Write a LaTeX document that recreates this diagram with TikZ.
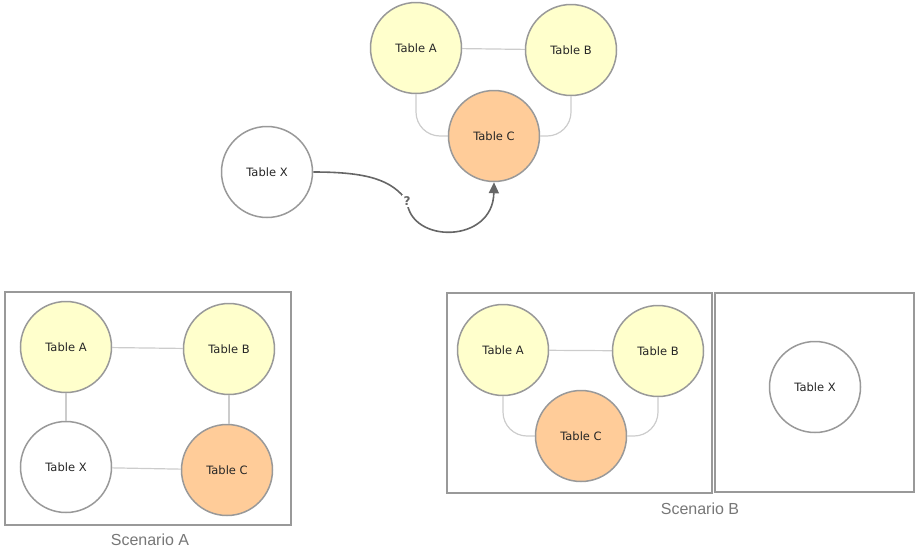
\documentclass[tikz,border=0pt]{standalone}
\usepackage{fontspec}
\setmainfont{DejaVu Sans}
\newfontfamily\labelfont{Liberation Sans}
\usetikzlibrary{arrows.meta,backgrounds}
\definecolor{nodegray}{HTML}{999999}
\definecolor{yelfill}{HTML}{FFFFCC}
\definecolor{orgfill}{HTML}{FFCC99}
\definecolor{linkgray}{HTML}{CCCCCC}
\definecolor{boxgray}{HTML}{999999}
\definecolor{capgray}{HTML}{777777}
\definecolor{arrowgray}{HTML}{666666}
\begin{document}
\begin{tikzpicture}[x=1pt,y=-1pt,
  tbl/.style={circle,draw=nodegray,line width=1.5pt,minimum size=91pt,inner sep=0pt,
    font=\fontsize{11.5}{13}\selectfont,text=black!85},
  yel/.style={tbl,fill=yelfill},
  org/.style={tbl,fill=orgfill},
  wht/.style={tbl,fill=white},
  link/.style={draw=linkgray,line width=1.2pt},
  curvelink/.style={link,rounded corners=24pt},
  box/.style={draw=boxgray,line width=1.5pt},
  scencaption/.style={font=\labelfont\fontsize{16}{18}\selectfont,text=capgray,anchor=base,inner sep=0pt}]
\useasboundingbox (0,0) rectangle (915,552);

% ---------- top ----------
\node[yel] (tA) at (416,48) {Table A};
\node[yel] (tB) at (571,50) {Table B};
\node[org] (tC) at (494,136) {Table C};
\node[wht] (tX) at (267,172) {Table X};
\begin{scope}[on background layer]
\draw[link] (tA) -- (tB);
\path[curvelink] (tA.south) |- (tC.west);
\path[curvelink] (tB.south) |- (tC.east);
\end{scope}
\coordinate (q) at (407,201);
\draw[draw=arrowgray,line width=1.6pt,-{Triangle[length=11pt,width=10pt]}]
  (tX.east) .. controls (368,172) and (392,180) .. (q)
  .. controls (410,244) and (493,244) .. (tC.south);
\node[fill=white,inner sep=2pt,text=arrowgray,font=\bfseries\fontsize{12}{13}\selectfont] (qm) at (q) {?};

% ---------- Scenario A ----------
\node[box,minimum width=286pt,minimum height=233pt,inner sep=0pt] (boxA) at (148,408.5) {};
\node[yel] (aA) at (66,347) {Table A};
\node[yel] (aB) at (229,349) {Table B};
\node[wht] (aX) at (66,467) {Table X};
\node[org] (aC) at (227,470) {Table C};
\draw[link] (aA) -- (aB);
\draw[link] (aA) -- (aX);
\draw[link] (aB.south) -- (aB.south |- aC.north);
\draw[link] (aX) -- (aC);
\node[scencaption] (capA) at (150,545) {Scenario A};

% ---------- Scenario B ----------
\node[box,minimum width=265pt,minimum height=200pt,inner sep=0pt] (boxB1) at (579.5,393) {};
\node[box,minimum width=199pt,minimum height=199pt,inner sep=0pt] (boxB2) at (814.5,392.5) {};
\node[yel] (bA) at (503,350) {Table A};
\node[yel] (bB) at (658,351) {Table B};
\node[org] (bC) at (581,436) {Table C};
\node[wht] (bX) at (815,387) {Table X};
\begin{scope}[on background layer]
\draw[link] (bA) -- (bB);
\path[curvelink] (bA.south) |- (bC.west);
\path[curvelink] (bB.south) |- (bC.east);
\end{scope}
\node[scencaption] (capB) at (700,514) {Scenario B};
\end{tikzpicture}
\end{document}
